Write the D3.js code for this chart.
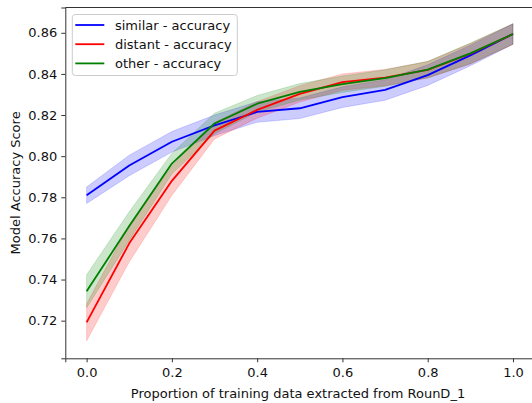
<!DOCTYPE html>
<html>
<head>
<meta charset="utf-8">
<script src="https://cdn.jsdelivr.net/npm/d3@7"></script>
<style>
  body { margin: 0; background: #fff; }
  svg { display: block; font-family: "DejaVu Sans", sans-serif; }
</style>
</head>
<body>
<script>
// data
const xs = [0, 0.1, 0.2, 0.3, 0.4, 0.5, 0.6, 0.7, 0.8, 0.9, 1.0]
const similar    = [0.781, 0.7955, 0.807, 0.815, 0.8215, 0.8233, 0.8287, 0.8322, 0.8394, 0.849, 0.8594]
const similarErr = [0.004, 0.005, 0.005, 0.005, 0.005, 0.005, 0.005, 0.005, 0.005, 0.005, 0.005]
const distant    = [0.7192, 0.7576, 0.788, 0.8124, 0.8225, 0.8303, 0.836, 0.8382, 0.842, 0.8498, 0.8594]
const distantErr = [0.009, 0.009, 0.007, 0.004, 0.004, 0.004, 0.004, 0.004, 0.004, 0.005, 0.005]
const other      = [0.7343, 0.766, 0.7964, 0.8159, 0.8255, 0.8313, 0.835, 0.838, 0.8421, 0.85, 0.8594]
const otherErr   = [0.008, 0.007, 0.005, 0.005, 0.004, 0.004, 0.004, 0.004, 0.004, 0.005, 0.005]

const seriesNames = ['similar - accuracy', 'distant - accuracy', 'other - accuracy']
const xTicks = [0, 0.2, 0.4, 0.6, 0.8, 1.0]
const yTicks = [0.72, 0.74, 0.76, 0.78, 0.80, 0.82, 0.84, 0.86]

const series = [
  { name: seriesNames[0], vals: similar, err: similarErr, color: '#0000ff' },
  { name: seriesNames[1], vals: distant, err: distantErr, color: '#ff0000' },
  { name: seriesNames[2], vals: other,   err: otherErr,   color: '#008000' }
]

const w = 532, h = 403
const mLeft = 65.3, mRight = 534.3, mTop = 7.5, mBottom = 358.3
const fs = 13

const svg = d3.select('body').append('svg')
  .attr('width', w)
  .attr('height', h)

const x = d3.scaleLinear().domain([-0.05, 1.05]).range([mLeft, mRight])
const y = d3.scaleLinear().domain([0.7017, 0.8723]).range([mBottom, mTop])

// bands first, lines on top (like matplotlib zorder)
const area = d3.area()
  .x(d => x(d.x))
  .y0(d => y(d.v - d.e))
  .y1(d => y(d.v + d.e))

const line = d3.line()
  .x(d => x(d.x))
  .y(d => y(d.v))

series.forEach(s => {
  s.pts = xs.map((xv, i) => ({ x: xv, v: s.vals[i], e: s.err[i] }))
})

series.forEach(s => {
  svg.append('path')
    .datum(s.pts)
    .attr('d', area)
    .attr('fill', s.color)
    .attr('fill-opacity', 0.2)
    .attr('stroke', s.color)
    .attr('stroke-opacity', 0.2)
    .attr('stroke-width', 0.8)
})

series.forEach(s => {
  svg.append('path')
    .datum(s.pts)
    .attr('d', line)
    .attr('fill', 'none')
    .attr('stroke', s.color)
    .attr('stroke-width', 1.8)
    .attr('stroke-linejoin', 'round')
})

// axes
const xAxis = d3.axisBottom(x).tickValues(xTicks).tickFormat(d3.format('.1f')).tickSizeOuter(0).tickSize(4).tickPadding(5)
const yAxis = d3.axisLeft(y).tickValues(yTicks).tickFormat(d3.format('.2f')).tickSizeOuter(0).tickSize(4).tickPadding(4)

const gx = svg.append('g')
  .attr('transform', `translate(0, ${mBottom})`)
  .call(xAxis)
const gy = svg.append('g')
  .attr('transform', `translate(${mLeft}, 0)`)
  .call(yAxis)

;[gx, gy].forEach(g => {
  g.select('.domain').attr('stroke', '#333').attr('stroke-width', 1)
  g.selectAll('.tick line').attr('stroke', '#333').attr('stroke-width', 1)
  g.selectAll('.tick text').attr('fill', '#111').style('font-size', fs + 'px').style('font-family', '"DejaVu Sans", sans-serif')
})

// top spine (right one falls outside the picture)
svg.append('line')
  .attr('x1', mLeft).attr('x2', mRight)
  .attr('y1', mTop).attr('y2', mTop)
  .attr('stroke', '#333').attr('stroke-width', 1)

// labels
svg.append('text')
  .attr('x', 298)
  .attr('y', 397.5)
  .attr('text-anchor', 'middle')
  .style('font-size', fs + 'px')
  .attr('fill', '#111')
  .text('Proportion of training data extracted from RounD_1')

svg.append('text')
  .attr('transform', `translate(19.5, ${(mTop + mBottom) / 2}) rotate(-90)`)
  .attr('text-anchor', 'middle')
  .style('font-size', fs + 'px')
  .attr('fill', '#111')
  .text('Model Accuracy Score')

// legend
const lg = svg.append('g').attr('transform', 'translate(72.3, 14.5)')
lg.append('rect')
  .attr('width', 165).attr('height', 61)
  .attr('rx', 3)
  .attr('fill', '#fff').attr('fill-opacity', 0.8)
  .attr('stroke', '#ccc').attr('stroke-width', 1)

series.forEach((s, i) => {
  const yy = 10.5 + i * 19.2
  lg.append('line')
    .attr('x1', 3).attr('x2', 32)
    .attr('y1', yy).attr('y2', yy)
    .attr('stroke', s.color).attr('stroke-width', 1.8)
  lg.append('text')
    .attr('x', 42.7).attr('y', yy)
    .attr('dy', '0.35em')
    .style('font-size', fs + 'px')
    .attr('fill', '#111')
    .text(s.name)
})
</script>
</body>
</html>
